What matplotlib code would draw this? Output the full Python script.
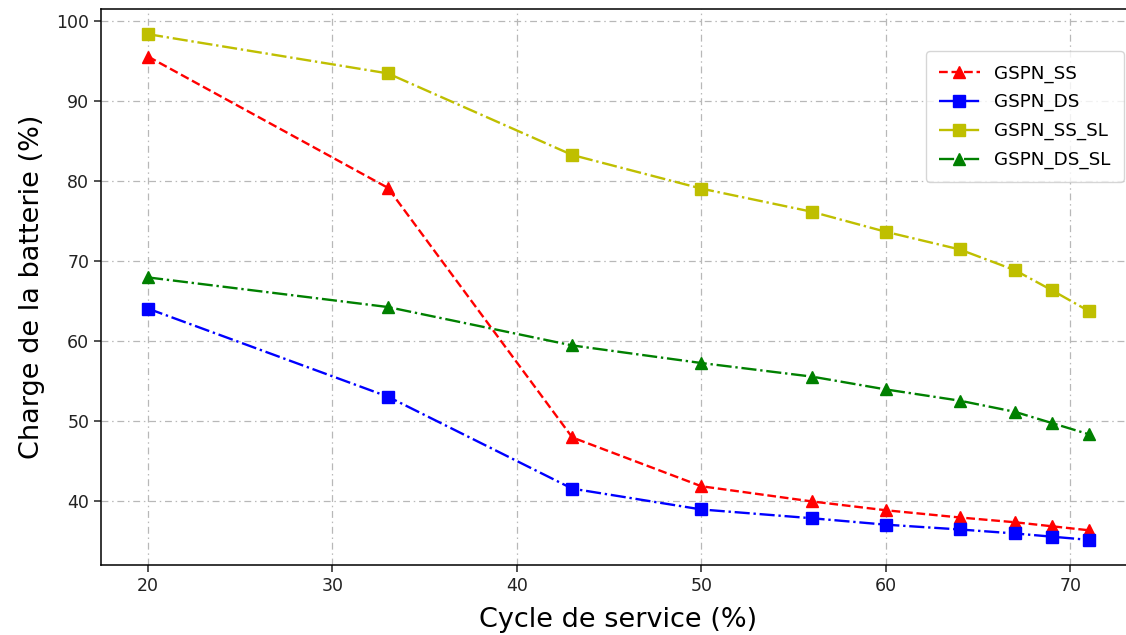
import matplotlib
matplotlib.use("Agg")
import matplotlib.pyplot as plt

cycle = [20, 33, 43, 50, 56, 60, 64, 67, 69, 71]
gspn_ss = [95.6, 79.2, 48.0, 41.9, 40.0, 38.9, 38.0, 37.4, 36.9, 36.4]
gspn_ds = [64.1, 53.1, 41.6, 39.0, 37.9, 37.1, 36.5, 36.0, 35.6, 35.2]
gspn_ss_sl = [98.4, 93.5, 83.3, 79.1, 76.2, 73.7, 71.5, 68.9, 66.4, 63.8]
gspn_ds_sl = [68.0, 64.3, 59.5, 57.3, 55.6, 54.0, 52.6, 51.2, 49.8, 48.4]

fig = plt.figure(figsize=(11.26, 6.35), dpi=100)
ax = fig.add_axes([0.0897, 0.110, 0.919, 0.876])

ax.plot(cycle, gspn_ss, 'r^--', lw=1.7, ms=8, label='GSPN_SS')
ax.plot(cycle, gspn_ds, 'bs-.', lw=1.7, ms=8, label='GSPN_DS')
ax.plot(cycle, gspn_ss_sl, 'ys-.', lw=1.7, ms=8, label='GSPN_SS_SL')
ax.plot(cycle, gspn_ds_sl, 'g^-.', lw=1.7, ms=8, label='GSPN_DS_SL')

ax.grid(True, linestyle=(0, (5.5, 3, 1.2, 3)), color='#b8b8b8', lw=0.9)
ax.set_xlabel('Cycle de service (%)', fontsize=19.5, labelpad=9)
ax.set_ylabel('Charge de la batterie (%)', fontsize=19.5, labelpad=8)
ax.tick_params(labelsize=12.5, length=5, width=1.1, colors='#222222')
for s in ax.spines.values():
    s.set_linewidth(1.1)
ax.legend(loc='upper right', bbox_to_anchor=(0.997, 0.94), fontsize=13.2,
          borderpad=0.7, labelspacing=0.58, handlelength=2.2)

fig.savefig('out.png', dpi=100)
